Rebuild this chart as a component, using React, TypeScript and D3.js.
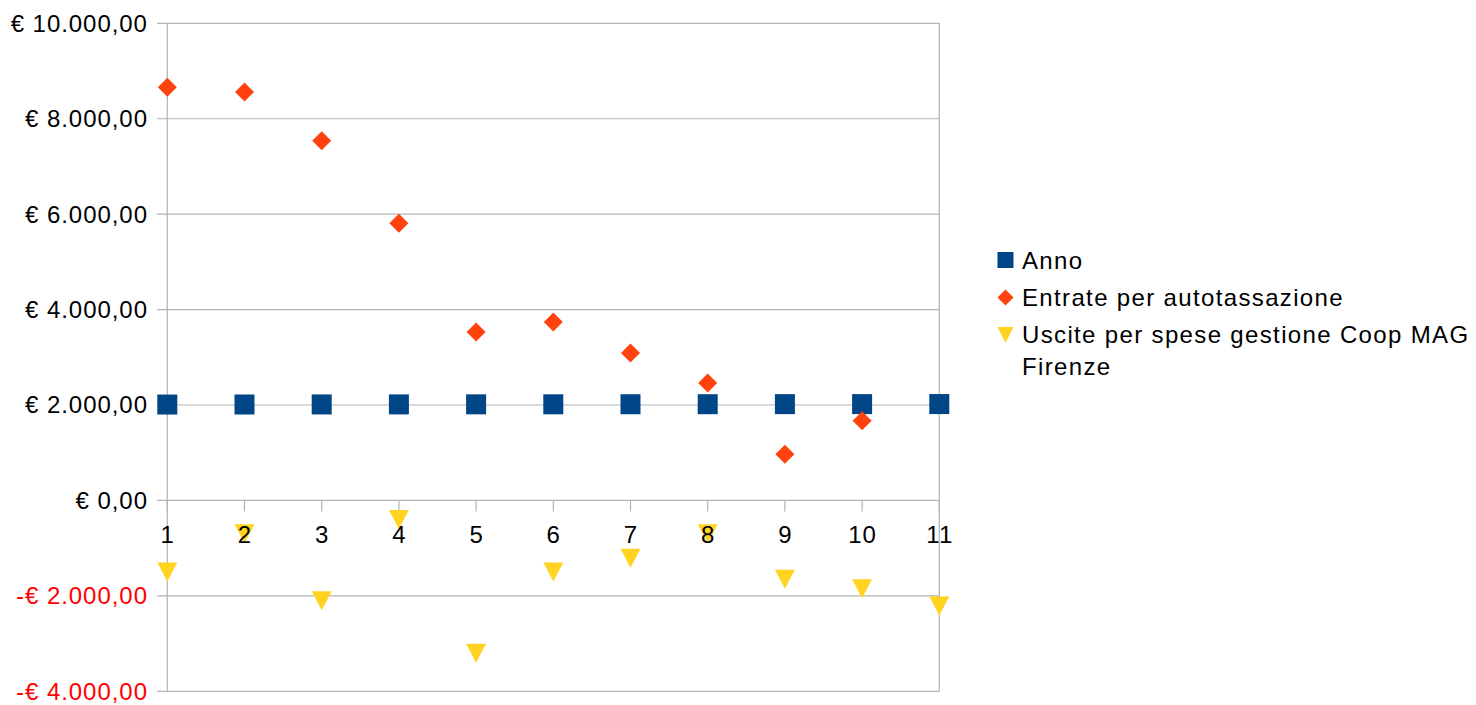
import React from "react";
import * as d3 from "d3";

const categories = [1, 2, 3, 4, 5, 6, 7, 8, 9, 10, 11];
const anno = [2010, 2011, 2012, 2013, 2014, 2015, 2016, 2017, 2018, 2019, 2020];
const entrate: (number | null)[] = [8660, 8560, 7540, 5810, 3530, 3740, 3090, 2460, 970, 1670, null];
const uscite = [-1500, -700, -2100, -400, -3200, -1500, -1210, -700, -1650, -1850, -2210];
const yTicks = [-4000, -2000, 0, 2000, 4000, 6000, 8000, 10000];
const seriesNames = ["Anno", "Entrate per autotassazione", "Uscite per spese gestione Coop MAG", "Firenze"];

const W = 1476, H = 705;
const FONT = "'Liberation Sans', Arial, sans-serif";
const FS = 24;
const BLUE = "#004586", ORANGE = "#ff420e", YELLOW = "#ffd320", GRID = "#b3b3b3";

const fmt = (v: number) => {
  const s = d3.format(",.2f")(Math.abs(v)).replace(/,/g, "#").replace(/\./g, ",").replace(/#/g, ".");
  return v < 0 ? "-€ " + s : "€ " + s;
};

export default function App() {
  if (typeof document !== "undefined") document.body.style.margin = "0";
  const x = d3.scaleLinear().domain([1, 11]).range([167.3, 939.3]);
  const y = d3.scaleLinear().domain([-4000, 10000]).range([691.3, 23.3]);
  const sq = 20;
  const diamond = (cx: number, cy: number, r = 9.5) => `M${cx},${cy - r}L${cx + r},${cy}L${cx},${cy + r}L${cx - r},${cy}Z`;
  const tri = (cx: number, cy: number, w = 10, h = 9.5) => `M${cx - w},${cy - h}L${cx + w},${cy - h}L${cx},${cy + h}Z`;
  const LS_Y = 0.95, LS_L = 1.35;
  return (
    <svg width={W} height={H} style={{ display: "block", background: "#fff" }} fontFamily={FONT}>
      {yTicks.map((t) => (
        <line key={"g" + t} x1={157} x2={939.3} y1={y(t)} y2={y(t)} stroke={GRID} strokeWidth={1.2} />
      ))}
      <line x1={x(1)} x2={x(1)} y1={y(10000)} y2={y(-4000)} stroke={GRID} strokeWidth={1.2} />
      <line x1={x(11)} x2={x(11)} y1={y(10000)} y2={y(-4000)} stroke={GRID} strokeWidth={1.2} />
      {categories.map((c) => (
        <line key={"t" + c} x1={x(c)} x2={x(c)} y1={y(0)} y2={y(0) + 11} stroke={GRID} strokeWidth={1.2} />
      ))}
      {yTicks.map((t) => (
        <text key={"yl" + t} x={147 + LS_Y} y={y(t)} dy="0.35em" textAnchor="end" fontSize={FS} letterSpacing={LS_Y} fill={t < 0 ? "#ff0000" : "#000"}>
          {fmt(t)}
        </text>
      ))}
      {anno.map((v, i) => (
        <rect key={"a" + i} x={x(categories[i]) - sq / 2} y={y(v) - sq / 2} width={sq} height={sq} fill={BLUE} />
      ))}
      {entrate.map((v, i) => (v == null ? null : <path key={"e" + i} d={diamond(x(categories[i]), y(v))} fill={ORANGE} />))}
      {uscite.map((v, i) => (
        <path key={"u" + i} d={tri(x(categories[i]), y(v))} fill={YELLOW} />
      ))}
      {categories.map((c) => (
        <text key={"xl" + c} x={x(c) + 0.5} y={534.5} dy="0.35em" textAnchor="middle" fontSize={FS} letterSpacing={1} fill="#000">
          {c}
        </text>
      ))}
      <g fontSize={FS} letterSpacing={LS_L}>
        <rect x={997.5} y={252} width={16} height={16} fill={BLUE} />
        <text x={1022} y={260.5} dy="0.35em">{seriesNames[0]}</text>
        <path d={diamond(1005.5, 297.5, 8)} fill={ORANGE} />
        <text x={1022} y={297.5} dy="0.35em">{seriesNames[1]}</text>
        <path d={tri(1005.5, 335, 8, 8)} fill={YELLOW} />
        <text x={1022} y={335} dy="0.35em">{seriesNames[2]}</text>
        <text x={1022} y={366.7} dy="0.35em">{seriesNames[3]}</text>
      </g>
    </svg>
  );
}
